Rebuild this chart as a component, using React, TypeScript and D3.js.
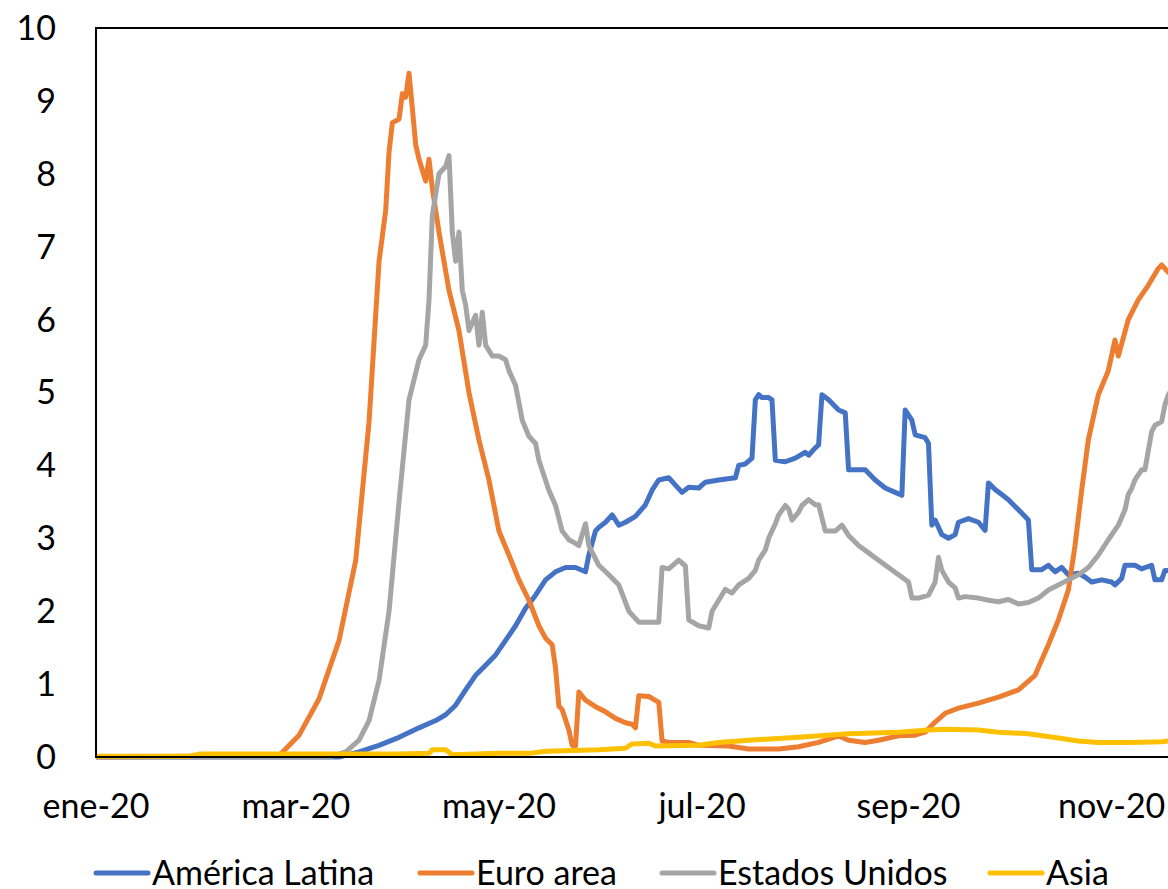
import React, { useEffect, useRef } from "react";
import * as d3 from "d3";

const width = 1168;
const height = 889;
const margin = { left: 96, top: 28, bottom: 757 };
const pxPerDay = 3.33;

const yTicks = [0, 1, 2, 3, 4, 5, 6, 7, 8, 9, 10];
const xTickLabels = ["ene-20", "mar-20", "may-20", "jul-20", "sep-20", "nov-20"];
const xTickDates = ["01-01", "03-01", "05-01", "07-01", "09-01", "11-01"];

const seriesNames = ["América Latina", "Euro area", "Estados Unidos", "Asia"];
const seriesColors = ["#4472C4", "#ED7D31", "#A5A5A5", "#FFC000"];

// [MM-DD of 2020, value]
const latam: [string, number][] = [
  ["01-01", 0], ["03-14", 0], ["03-20", 0.07], ["03-26", 0.16], ["04-01", 0.27], ["04-07", 0.4],
  ["04-12", 0.5], ["04-15", 0.58], ["04-18", 0.71], ["04-21", 0.92], ["04-24", 1.12], ["04-27", 1.26],
  ["04-30", 1.4], ["05-03", 1.6], ["05-06", 1.8], ["05-09", 2.04], ["05-12", 2.22], ["05-15", 2.43],
  ["05-18", 2.54], ["05-21", 2.6], ["05-24", 2.6], ["05-27", 2.54], ["05-28", 2.77], ["05-30", 3.1],
  ["05-31", 3.15], ["06-02", 3.22], ["06-04", 3.32], ["06-06", 3.18], ["06-08", 3.22], ["06-11", 3.3],
  ["06-14", 3.46], ["06-16", 3.66], ["06-18", 3.8], ["06-21", 3.83], ["06-23", 3.73], ["06-25", 3.63],
  ["06-27", 3.7], ["06-30", 3.69], ["07-02", 3.77], ["07-06", 3.8], ["07-11", 3.83], ["07-12", 4.0],
  ["07-14", 4.02], ["07-16", 4.1], ["07-17", 4.9], ["07-18", 4.97], ["07-19", 4.93], ["07-21", 4.93],
  ["07-22", 4.9], ["07-23", 4.07], ["07-26", 4.05], ["07-29", 4.1], ["08-01", 4.18], ["08-02", 4.14],
  ["08-04", 4.24], ["08-05", 4.28], ["08-06", 4.97], ["08-08", 4.9], ["08-11", 4.76], ["08-13", 4.72],
  ["08-14", 3.94], ["08-16", 3.94], ["08-19", 3.94], ["08-22", 3.8], ["08-25", 3.69], ["08-28", 3.63],
  ["08-30", 3.59], ["08-31", 4.76], ["09-02", 4.62], ["09-03", 4.42], ["09-06", 4.38], ["09-07", 4.3],
  ["09-08", 3.18], ["09-09", 3.25], ["09-11", 3.05], ["09-13", 3.0], ["09-15", 3.05], ["09-16", 3.22],
  ["09-19", 3.27], ["09-22", 3.22], ["09-24", 3.11], ["09-25", 3.76], ["09-27", 3.67], ["09-29", 3.6],
  ["10-01", 3.53], ["10-04", 3.39], ["10-07", 3.25], ["10-08", 2.57], ["10-11", 2.57], ["10-13", 2.63],
  ["10-15", 2.54], ["10-17", 2.6], ["10-19", 2.5], ["10-22", 2.52], ["10-24", 2.47], ["10-26", 2.4],
  ["10-29", 2.43], ["11-01", 2.4], ["11-02", 2.36], ["11-04", 2.45], ["11-05", 2.63], ["11-08", 2.63],
  ["11-10", 2.58], ["11-13", 2.63], ["11-14", 2.43], ["11-16", 2.43], ["11-17", 2.56], ["11-18", 2.56],
  ["11-20", 2.6],
];

const euro: [string, number][] = [
  ["01-01", 0], ["02-25", 0.02], ["03-02", 0.3], ["03-08", 0.8], ["03-14", 1.6], ["03-19", 2.7],
  ["03-23", 4.6], ["03-26", 6.8], ["03-28", 7.5], ["03-29", 8.3], ["03-30", 8.7], ["04-01", 8.75],
  ["04-02", 9.1], ["04-03", 9.05], ["04-04", 9.38], ["04-05", 8.9], ["04-06", 8.4], ["04-07", 8.2],
  ["04-09", 7.9], ["04-10", 8.2], ["04-11", 7.8], ["04-13", 7.2], ["04-16", 6.4], ["04-19", 5.85],
  ["04-22", 5.0], ["04-25", 4.35], ["04-28", 3.8], ["05-01", 3.1], ["05-04", 2.77], ["05-07", 2.43],
  ["05-10", 2.15], ["05-13", 1.8], ["05-15", 1.63], ["05-17", 1.54], ["05-18", 1.22], ["05-19", 0.7],
  ["05-20", 0.65], ["05-22", 0.37], ["05-23", 0.16], ["05-24", 0.15], ["05-25", 0.89], ["05-27", 0.78],
  ["05-30", 0.69], ["06-02", 0.62], ["06-05", 0.53], ["06-08", 0.47], ["06-10", 0.45], ["06-11", 0.4],
  ["06-12", 0.84], ["06-15", 0.83], ["06-18", 0.75], ["06-19", 0.22], ["06-21", 0.2], ["06-27", 0.2],
  ["06-30", 0.16], ["07-09", 0.15], ["07-15", 0.11], ["07-24", 0.11], ["07-30", 0.14], ["08-05", 0.2],
  ["08-11", 0.29], ["08-14", 0.23], ["08-19", 0.2], ["08-23", 0.23], ["08-29", 0.29], ["09-03", 0.3],
  ["09-06", 0.34], ["09-09", 0.48], ["09-12", 0.6], ["09-16", 0.67], ["09-22", 0.74], ["09-28", 0.82],
  ["10-04", 0.92], ["10-09", 1.12], ["10-13", 1.54], ["10-16", 1.88], ["10-19", 2.29], ["10-21", 2.9],
  ["10-23", 3.66], ["10-25", 4.35], ["10-28", 4.97], ["10-31", 5.3], ["11-02", 5.72], ["11-03", 5.5],
  ["11-06", 6.0], ["11-09", 6.27], ["11-12", 6.47], ["11-15", 6.7], ["11-16", 6.75], ["11-18", 6.65],
  ["11-20", 6.6],
];

const usa: [string, number][] = [
  ["01-01", 0], ["03-11", 0], ["03-16", 0.07], ["03-20", 0.23], ["03-23", 0.5], ["03-26", 1.05],
  ["03-29", 2.0], ["04-01", 3.5], ["04-04", 4.9], ["04-07", 5.45], ["04-09", 5.65], ["04-10", 6.27],
  ["04-11", 7.43], ["04-13", 8.0], ["04-15", 8.1], ["04-16", 8.25], ["04-17", 7.2], ["04-18", 6.8],
  ["04-19", 7.2], ["04-20", 6.4], ["04-21", 6.2], ["04-22", 5.85], ["04-24", 6.06], ["04-25", 5.65],
  ["04-26", 6.1], ["04-27", 5.65], ["04-29", 5.5], ["05-01", 5.5], ["05-03", 5.45], ["05-04", 5.3],
  ["05-06", 5.1], ["05-08", 4.62], ["05-10", 4.4], ["05-12", 4.3], ["05-13", 4.07], ["05-16", 3.66],
  ["05-18", 3.45], ["05-20", 3.1], ["05-22", 2.98], ["05-24", 2.93], ["05-25", 2.9], ["05-27", 3.2],
  ["05-28", 2.9], ["05-31", 2.63], ["06-03", 2.5], ["06-06", 2.36], ["06-09", 2.0], ["06-12", 1.85],
  ["06-18", 1.85], ["06-19", 2.6], ["06-21", 2.58], ["06-24", 2.7], ["06-26", 2.62], ["06-27", 1.88],
  ["06-30", 1.8], ["07-03", 1.77], ["07-04", 2.0], ["07-06", 2.15], ["07-08", 2.3], ["07-10", 2.25],
  ["07-12", 2.36], ["07-15", 2.45], ["07-17", 2.56], ["07-18", 2.7], ["07-20", 2.84], ["07-21", 3.0],
  ["07-23", 3.2], ["07-24", 3.32], ["07-26", 3.45], ["07-27", 3.4], ["07-28", 3.25], ["07-30", 3.36],
  ["07-31", 3.45], ["08-02", 3.53], ["08-04", 3.46], ["08-05", 3.46], ["08-07", 3.1], ["08-10", 3.1],
  ["08-12", 3.18], ["08-14", 3.04], ["08-17", 2.9], ["08-20", 2.8], ["08-23", 2.7], ["08-26", 2.6],
  ["08-29", 2.5], ["09-01", 2.4], ["09-02", 2.18], ["09-04", 2.18], ["09-07", 2.22], ["09-09", 2.4],
  ["09-10", 2.74], ["09-11", 2.56], ["09-13", 2.4], ["09-15", 2.32], ["09-16", 2.18], ["09-18", 2.2],
  ["09-22", 2.18], ["09-25", 2.15], ["09-28", 2.13], ["10-01", 2.16], ["10-04", 2.1], ["10-07", 2.12],
  ["10-10", 2.18], ["10-13", 2.29], ["10-16", 2.36], ["10-19", 2.43], ["10-22", 2.5], ["10-25", 2.6],
  ["10-28", 2.77], ["10-31", 2.98], ["11-03", 3.18], ["11-05", 3.39], ["11-06", 3.6], ["11-07", 3.68],
  ["11-08", 3.8], ["11-10", 3.94], ["11-11", 3.94], ["11-13", 4.46], ["11-14", 4.55], ["11-16", 4.6],
  ["11-17", 4.83], ["11-18", 4.97], ["11-20", 5.1],
];

const asia: [string, number][] = [
  ["01-01", 0.01], ["01-29", 0.01], ["02-01", 0.04], ["04-01", 0.04], ["04-10", 0.05], ["04-11", 0.1],
  ["04-15", 0.1], ["04-17", 0.03], ["05-01", 0.05], ["05-10", 0.05], ["05-15", 0.08], ["05-31", 0.1],
  ["06-08", 0.12], ["06-10", 0.18], ["06-15", 0.19], ["06-17", 0.15], ["06-30", 0.16], ["07-06", 0.2],
  ["07-15", 0.23], ["07-30", 0.27], ["08-14", 0.32], ["08-29", 0.34], ["09-07", 0.37], ["09-12", 0.38],
  ["09-22", 0.37], ["09-28", 0.34], ["10-07", 0.32], ["10-16", 0.26], ["10-22", 0.22], ["10-28", 0.2],
  ["11-06", 0.2], ["11-16", 0.21], ["11-18", 0.22], ["11-20", 0.22],
];

const seriesData = [latam, euro, usa, asia];

const toDate = (md: string) => new Date(`2020-${md}T00:00:00`);

const App: React.FC = () => {
  const svgRef = useRef<SVGSVGElement | null>(null);

  useEffect(() => {
    if (!svgRef.current) return;
    const svg = d3.select(svgRef.current);
    svg.selectAll("*").remove();

    const x0 = toDate("01-01");
    const x1 = toDate("12-31");
    const days = (x1.getTime() - x0.getTime()) / 86400000;
    const x = d3.scaleTime().domain([x0, x1]).range([margin.left, margin.left + days * pxPerDay]);
    const y = d3.scaleLinear().domain([0, 10]).range([margin.bottom, margin.top]);

    const font = "Lato, 'Open Sans', sans-serif";

    // y labels
    svg
      .append("g")
      .selectAll("text")
      .data(yTicks)
      .enter()
      .append("text")
      .attr("x", 56)
      .attr("y", (d) => y(d))
      .attr("dy", "0.35em")
      .attr("text-anchor", "end")
      .attr("font-family", font)
      .attr("font-size", 34)
      .attr("fill", "#000")
      .text((d) => d);

    // x labels
    svg
      .append("g")
      .selectAll("text")
      .data(xTickDates)
      .enter()
      .append("text")
      .attr("x", (d) => x(toDate(d)))
      .attr("y", 818)
      .attr("text-anchor", "middle")
      .attr("font-family", font)
      .attr("font-size", 34)
      .attr("fill", "#000")
      .text((d, i) => xTickLabels[i]);

    svg
      .append("clipPath")
      .attr("id", "plot-clip")
      .append("rect")
      .attr("x", margin.left)
      .attr("y", margin.top - 10)
      .attr("width", width)
      .attr("height", margin.bottom - margin.top + 20);

    const line = d3
      .line<[string, number]>()
      .x((d) => x(toDate(d[0])))
      .y((d) => y(d[1]));

    const lines = svg.append("g").attr("clip-path", "url(#plot-clip)");
    seriesData.forEach((s, i) => {
      lines
        .append("path")
        .attr("d", line(s))
        .attr("fill", "none")
        .attr("stroke", seriesColors[i])
        .attr("stroke-width", 5)
        .attr("stroke-linejoin", "round")
        .attr("stroke-linecap", "round");
    });

    // plot frame
    svg
      .append("rect")
      .attr("x", margin.left)
      .attr("y", margin.top)
      .attr("width", width)
      .attr("height", margin.bottom - margin.top)
      .attr("fill", "none")
      .attr("stroke", "#000")
      .attr("stroke-width", 2);

    // legend
    const legendX = [96, 420, 662, 990];
    const legend = svg.append("g");
    seriesNames.forEach((name, i) => {
      legend
        .append("line")
        .attr("x1", legendX[i])
        .attr("x2", legendX[i] + 52)
        .attr("y1", 873)
        .attr("y2", 873)
        .attr("stroke", seriesColors[i])
        .attr("stroke-width", 5)
        .attr("stroke-linecap", "round");
      legend
        .append("text")
        .attr("x", legendX[i] + 56)
        .attr("y", 873)
        .attr("dy", "0.35em")
        .attr("font-family", font)
        .attr("font-size", 34)
        .attr("fill", "#000")
        .text(name);
    });
  }, []);

  return (
    <svg
      ref={svgRef}
      width={width}
      height={height}
      style={{ position: "absolute", left: 0, top: 0, background: "#fff" }}
    />
  );
};

export default App;
